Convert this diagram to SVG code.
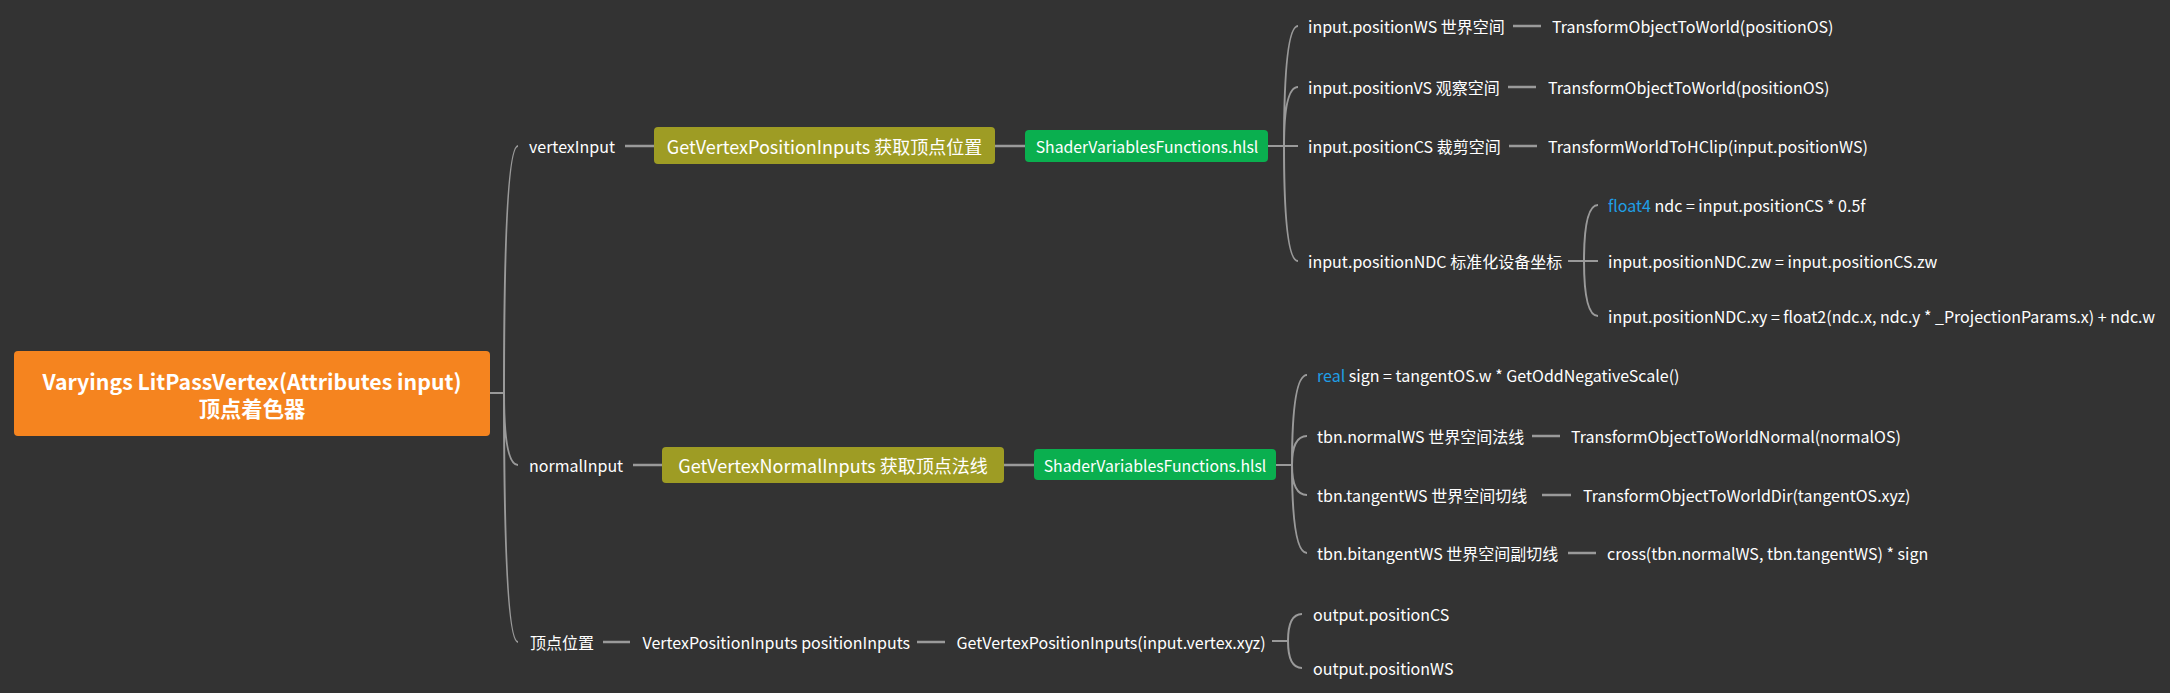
<svg xmlns="http://www.w3.org/2000/svg" width="2170" height="693" viewBox="0 0 2170 693">
<style>
text{font-family:"Noto Sans CJK SC","Noto Sans",sans-serif;fill:#ffffff;dominant-baseline:central}
.t{font-size:16px}
.root{font-size:21.3px;font-weight:bold;text-anchor:middle}
.olive-t{font-size:18px;text-anchor:middle}
.green-t{font-size:15.8px;text-anchor:middle}
.kw{fill:#1f9fe6}
.c{fill:none;stroke:#9a9a9a;stroke-width:2}
.d{fill:none;stroke:#9a9a9a;stroke-width:2.5}
.olive{fill:#9e9c24}
.green{fill:#0aaf4f}
</style>
<rect width="2170" height="693" fill="#333333"/>
<g id="connectors">
<path class="c" d="M490 393H504M504 393Q504 146 518 146M504 393Q504 465 518 465M504 393Q504 642 518 642"/>
<path class="d" d="M625 146H654M995 146H1025M633 465H662M1004 465H1034"/>
<path class="c" d="M1268 146H1298M1284 146Q1284 26 1298 26M1284 146Q1284 87 1298 87M1284 146Q1284 261 1298 261"/>
<path class="d" d="M1513 26H1541M1508 87H1536M1509 146H1537"/>
<path class="c" d="M1568 261H1598M1584 261Q1584 205 1598 205M1584 261Q1584 316 1598 316"/>
<path class="c" d="M1276 465H1292M1292 465Q1292 375 1307 375M1292 465Q1292 436 1307 436M1292 465Q1292 495 1307 495M1292 465Q1292 553 1307 553"/>
<path class="d" d="M1532 436H1560M1542 495H1571M1568 553H1596"/>
<path class="d" d="M603 642H630M917 642H945"/>
<path class="c" d="M1272 641H1288M1288 641Q1288 614 1302 614M1288 641Q1288 668 1302 668"/>
</g>
<g id="root">
<rect x="14" y="351" width="476" height="85" rx="4" fill="#f5841f"/>
<text class="root" x="252" y="380">Varyings LitPassVertex(Attributes input)</text>
<text class="root" x="252" y="407">顶点着色器</text>
</g>
<g id="vertexInput"><text class="t" x="529" y="146">vertexInput</text></g>
<g id="normalInput"><text class="t" x="529" y="465">normalInput</text></g>
<g id="vertexPos"><text class="t" x="530" y="642">顶点位置</text></g>
<g id="getVertexPositionInputs">
<rect class="olive" x="654" y="127" width="341" height="37" rx="4"/>
<text class="olive-t" x="824.5" y="146">GetVertexPositionInputs 获取顶点位置</text>
</g>
<g id="svf1">
<rect class="green" x="1025" y="130" width="243" height="32" rx="4"/>
<text class="green-t" x="1147" y="146">ShaderVariablesFunctions.hlsl</text>
</g>
<g id="getVertexNormalInputs">
<rect class="olive" x="662" y="447" width="342" height="36" rx="4"/>
<text class="olive-t" x="833" y="465">GetVertexNormalInputs 获取顶点法线</text>
</g>
<g id="svf2">
<rect class="green" x="1034" y="449" width="242" height="31" rx="4"/>
<text class="green-t" x="1155" y="465">ShaderVariablesFunctions.hlsl</text>
</g>
<g id="positionWS"><text class="t" x="1308" y="26">input.positionWS 世界空间</text></g>
<g id="positionWS-f"><text class="t" x="1552" y="26">TransformObjectToWorld(positionOS)</text></g>
<g id="positionVS"><text class="t" x="1308" y="87">input.positionVS 观察空间</text></g>
<g id="positionVS-f"><text class="t" x="1548" y="87">TransformObjectToWorld(positionOS)</text></g>
<g id="positionCS"><text class="t" x="1308" y="146">input.positionCS 裁剪空间</text></g>
<g id="positionCS-f"><text class="t" x="1548" y="146">TransformWorldToHClip(input.positionWS)</text></g>
<g id="positionNDC"><text class="t" x="1308" y="261">input.positionNDC 标准化设备坐标</text></g>
<g id="ndc1"><text class="t" x="1608" y="205"><tspan class="kw">float4</tspan> ndc = input.positionCS * 0.5f</text></g>
<g id="ndc2"><text class="t" x="1608" y="261">input.positionNDC.zw = input.positionCS.zw</text></g>
<g id="ndc3"><text class="t" x="1608" y="316">input.positionNDC.xy = float2(ndc.x, ndc.y * _ProjectionParams.x) + ndc.w</text></g>
<g id="sign"><text class="t" x="1317" y="375"><tspan class="kw">real</tspan> sign = tangentOS.w * GetOddNegativeScale()</text></g>
<g id="normalWS"><text class="t" x="1317" y="436">tbn.normalWS 世界空间法线</text></g>
<g id="normalWS-f"><text class="t" x="1571" y="436">TransformObjectToWorldNormal(normalOS)</text></g>
<g id="tangentWS"><text class="t" x="1317" y="495">tbn.tangentWS 世界空间切线</text></g>
<g id="tangentWS-f"><text class="t" x="1583" y="495">TransformObjectToWorldDir(tangentOS.xyz)</text></g>
<g id="bitangentWS"><text class="t" x="1317" y="553">tbn.bitangentWS 世界空间副切线</text></g>
<g id="bitangentWS-f"><text class="t" x="1607" y="553">cross(tbn.normalWS, tbn.tangentWS) * sign</text></g>
<g id="positionInputs"><text class="t" x="642.5" y="642">VertexPositionInputs positionInputs</text></g>
<g id="getVPI"><text class="t" x="956.5" y="642">GetVertexPositionInputs(input.vertex.xyz)</text></g>
<g id="outCS"><text class="t" x="1313" y="614">output.positionCS</text></g>
<g id="outWS"><text class="t" x="1313" y="668">output.positionWS</text></g>
</svg>
